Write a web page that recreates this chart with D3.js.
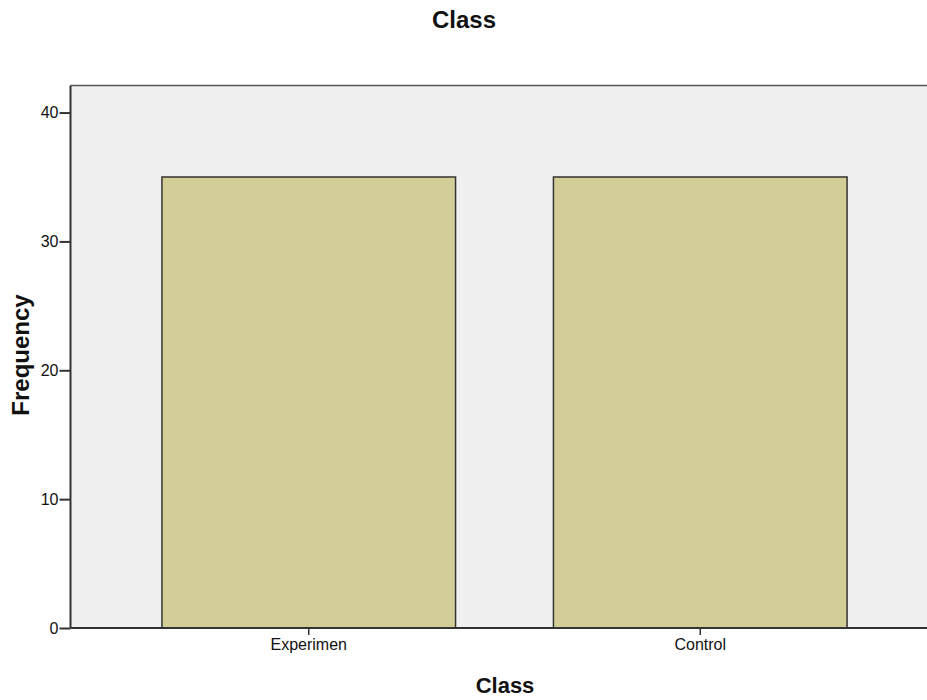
<!DOCTYPE html>
<html><head><meta charset="utf-8">
<script src="https://cdn.jsdelivr.net/npm/d3@7"></script>
<style>body{margin:0;background:#fff;} text{font-family:"Liberation Sans",Arial,sans-serif;}</style>
</head><body>
<svg id="c" width="927" height="700"></svg>
<script>
const categories = ["Experimen", "Control"];
const frequency = [35, 35];
const yTicks = [0, 10, 20, 30, 40];

const svg = d3.select("#c");
const pLeft = 70.5, pRight = 940, pTop = 85.5, pBottom = 628;
const y = d3.scaleLinear().domain([0, 42.1]).range([pBottom, pTop]);
const x = d3.scaleBand().domain(categories).range([113, 896]).paddingInner(0.25).paddingOuter(0.125);

svg.append("rect").attr("x", pLeft).attr("y", pTop).attr("width", pRight - pLeft).attr("height", pBottom - pTop)
  .attr("fill", "#f0f0f0");
svg.append("line").attr("x1", pLeft).attr("x2", pRight).attr("y1", pTop).attr("y2", pTop)
  .attr("stroke", "#555").attr("stroke-width", 1.5);

svg.selectAll("rect.bar").data(categories).enter().append("rect").attr("class", "bar")
  .attr("x", d => x(d)).attr("width", x.bandwidth())
  .attr("y", (d, i) => y(frequency[i])).attr("height", (d, i) => y(0) - y(frequency[i]))
  .attr("fill", "#d3ce97").attr("stroke", "#333").attr("stroke-width", 1.5);

const yAxis = d3.axisLeft(y).tickValues(yTicks).tickSize(11).tickPadding(1).tickFormat(d3.format("d"));
const gy = svg.append("g").attr("transform", `translate(${pLeft},0)`).call(yAxis);
gy.select(".domain").remove();
gy.append("line").attr("x1", 0).attr("x2", 0).attr("y1", pTop).attr("y2", pBottom).attr("stroke", "#333").attr("stroke-width", 2);
gy.selectAll(".tick line").attr("stroke", "#333").attr("stroke-width", 2);
gy.selectAll(".tick text").attr("font-size", 16).attr("fill", "#111").style("font-family", "Liberation Sans, Arial, sans-serif");

const xAxis = d3.axisBottom(x).tickSize(7).tickPadding(4);
const gx = svg.append("g").attr("transform", `translate(0,${pBottom})`).call(xAxis);
gx.select(".domain").remove();
gx.append("line").attr("x1", pLeft).attr("x2", pRight).attr("y1", 0).attr("y2", 0).attr("stroke", "#333").attr("stroke-width", 2);
gx.selectAll(".tick line").attr("stroke", "#333").attr("stroke-width", 1.5);
gx.selectAll(".tick text").attr("font-size", 16).attr("fill", "#111").style("font-family", "Liberation Sans, Arial, sans-serif");

svg.append("text").attr("x", 464).attr("y", 28).attr("text-anchor", "middle")
  .attr("font-size", 24).attr("font-weight", "bold").attr("fill", "#111").text("Class");
svg.append("text").attr("x", 505).attr("y", 693).attr("text-anchor", "middle")
  .attr("font-size", 22).attr("font-weight", "bold").attr("fill", "#111").text("Class");
svg.append("text").attr("transform", "translate(29,355) rotate(-90)").attr("text-anchor", "middle")
  .attr("font-size", 24).attr("font-weight", "bold").attr("fill", "#111").text("Frequency");
</script>
</body></html>
